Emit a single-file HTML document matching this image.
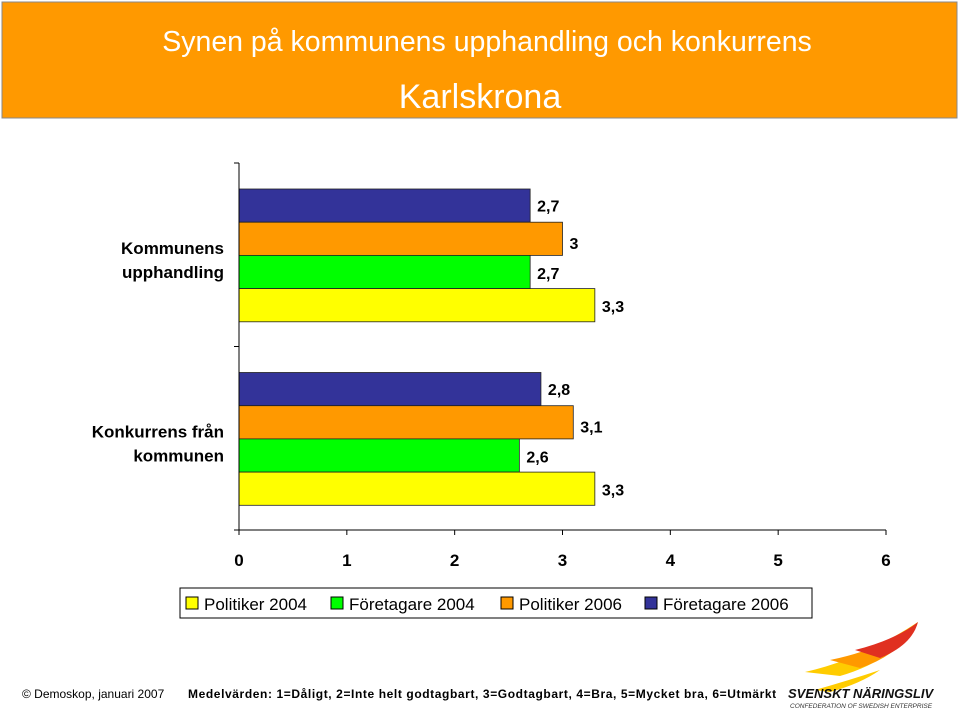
<!DOCTYPE html>
<html><head><meta charset="utf-8"><style>
body{margin:0;width:960px;height:711px;background:#fff;overflow:hidden;font-family:"Liberation Sans",sans-serif;}
</style></head><body>
<svg width="960" height="711" xmlns="http://www.w3.org/2000/svg" font-family="Liberation Sans, sans-serif">
<rect x="2" y="2" width="955" height="116" fill="#FF9900" stroke="#888"/>
<text x="487" y="51" text-anchor="middle" font-size="28.5" fill="#fff">Synen på kommunens upphandling och konkurrens</text>
<text x="480" y="108" text-anchor="middle" font-size="34" fill="#fff">Karlskrona</text>
<g id="bars"></g>
<g id="axes" stroke="#000" stroke-width="1"></g>
<g id="labels" font-size="17" fill="#000" font-weight="bold"></g>
<g>
<rect x="180" y="588" width="632" height="30" fill="#fff" stroke="#000"/>
<rect x="186" y="597" width="12" height="12" fill="#FFFF00" stroke="#000"/>
<text x="204" y="610" font-size="17">Politiker 2004</text>
<rect x="331" y="597" width="12" height="12" fill="#00FF00" stroke="#000"/>
<text x="349" y="610" font-size="17">Företagare 2004</text>
<rect x="501" y="597" width="12" height="12" fill="#FF9900" stroke="#000"/>
<text x="519" y="610" font-size="17">Politiker 2006</text>
<rect x="645" y="597" width="12" height="12" fill="#333399" stroke="#000"/>
<text x="663" y="610" font-size="17">Företagare 2006</text>
</g>
<text x="22" y="698" font-size="12">© Demoskop, januari 2007</text>
<text x="188" y="698" font-size="12" font-weight="bold" letter-spacing="0.6">Medelvärden: 1=Dåligt, 2=Inte helt godtagbart, 3=Godtagbart, 4=Bra, 5=Mycket bra, 6=Utmärkt</text>
<g>
<path d="M805 672 Q860 660 918 622 Q895 660 840 676 Z" fill="#FFCC00"/>
<path d="M830 660 Q880 650 915 625 Q900 655 860 668 Z" fill="#FF9900"/>
<path d="M855 650 Q895 640 918 622 Q912 645 880 658 Z" fill="#E03020"/>
<path d="M815 690 Q850 680 880 670 Q860 684 830 692 Z" fill="#FFCC00"/>
<text x="788" y="698" font-size="13" font-weight="bold" font-style="italic" fill="#111">SVENSKT NÄRINGSLIV</text>
<text x="790" y="708" font-size="6.5" font-style="italic" fill="#333">CONFEDERATION OF SWEDISH ENTERPRISE</text>
</g>
</svg>
<script>
const categories=["Kommunens upphandling","Konkurrens från kommunen"];
const seriesNames=["Företagare 2006","Politiker 2006","Företagare 2004","Politiker 2004"];
const seriesColors=["#333399","#FF9900","#00FF00","#FFFF00"];
const valuesUpphandling=[2.7,3.0,2.7,3.3];
const valuesKonkurrens=[2.8,3.1,2.6,3.3];
const valueLabels=[["2,7","3","2,7","3,3"],["2,8","3,1","2,6","3,3"]];
const xTicks=[0,1,2,3,4,5,6];
const allValues=[valuesUpphandling,valuesKonkurrens];
const NS="http://www.w3.org/2000/svg";
const x0=239,x1=886,yTop=163,yBot=530;
function xs(v){return x0+(x1-x0)*v/6;}
const catH=(yBot-yTop)/categories.length;
const barH=33.2;
function mk(tag,attrs,parent){const e=document.createElementNS(NS,tag);for(const k in attrs)e.setAttribute(k,attrs[k]);document.getElementById(parent).appendChild(e);return e;}
const labelOffsets=[0,4,1,1];
categories.forEach((c,ci)=>{
  const gStart=yTop+ci*catH+26;
  allValues[ci].forEach((v,si)=>{
    const y=gStart+si*barH;
    const r=mk('rect',{x:x0,y:y,width:xs(v)-x0,height:barH,fill:seriesColors[si],stroke:'#222','stroke-width':0.8},'bars');
    
    
    const t=mk('text',{x:xs(v)+7,y:y+barH/2+6+labelOffsets[si],'font-size':16},'labels');
    t.textContent=valueLabels[ci][si];
    
    
  });
  const cy=yTop+ci*catH+catH/2;
  const words=ci===0?["Kommunens","upphandling"]:["Konkurrens från","kommunen"];
  words.forEach((w,wi)=>{
    const t=mk('text',{x:224,y:cy-1+wi*24,'text-anchor':'end','font-size':17},'labels');
    t.textContent=w;
    
    
  });
});
const ax=mk('line',{x1:x0,y1:yTop,x2:x0,y2:yBot},'axes');


const bx=mk('line',{x1:x0,y1:yBot,x2:x1,y2:yBot},'axes');


for(let i=0;i<=categories.length;i++){mk('line',{x1:x0-5,y1:yTop+i*catH,x2:x0,y2:yTop+i*catH},'axes');}
xTicks.forEach(v=>{
  mk('line',{x1:xs(v),y1:yBot,x2:xs(v),y2:yBot+5},'axes');
  const t=mk('text',{x:xs(v),y:566,'text-anchor':'middle','font-size':17},'labels');
  t.textContent=v;
  
  
});
</script>
</body></html>
